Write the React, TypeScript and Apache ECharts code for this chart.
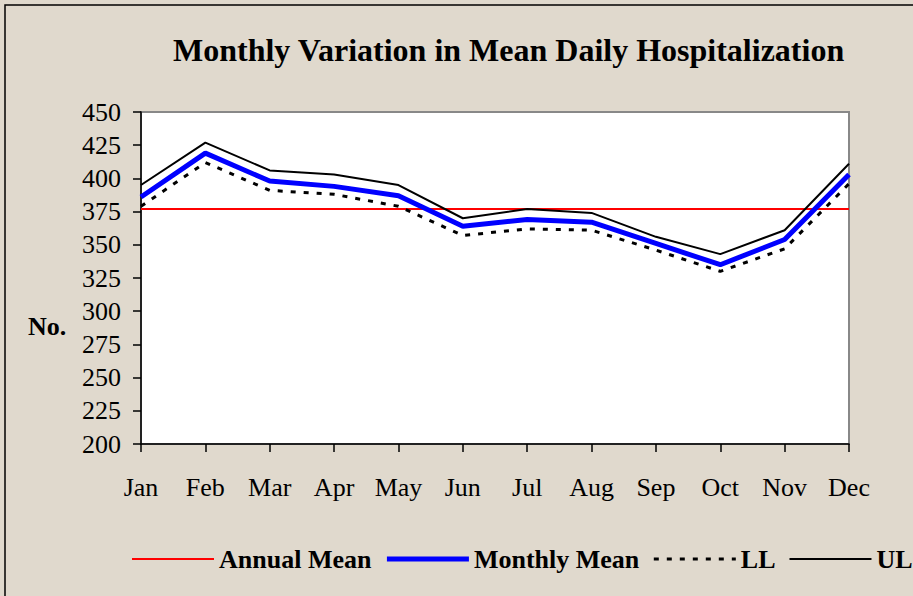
import React, { useEffect, useRef } from "react";
import * as echarts from "echarts";

const months = ["Jan", "Feb", "Mar", "Apr", "May", "Jun", "Jul", "Aug", "Sep", "Oct", "Nov", "Dec"];
const annualMean = [377, 377, 377, 377, 377, 377, 377, 377, 377, 377, 377, 377];
const monthlyMean = [386, 419, 398, 394, 387, 364, 369, 367, 351, 335, 354, 403];
const lowerLimit = [379, 412, 391, 388, 379, 357, 362, 361, 346, 330, 347, 396];
const upperLimit = [395, 427, 406, 403, 395, 370, 377, 374, 356, 343, 361, 411];
const yTicks = { min: 200, max: 450, step: 25 };

const FONT = "'Liberation Serif', 'Times New Roman', serif";

export default function App() {
  const ref = useRef<HTMLDivElement>(null);
  useEffect(() => {
    if (!ref.current) return;
    const chart = echarts.init(ref.current, undefined, { renderer: "svg" });
    chart.setOption({
      animation: false,
      backgroundColor: "#e0d9cd",
      title: {
        text: "Monthly Variation in Mean Daily Hospitalization",
        left: 168,
        top: 29,
        textStyle: { fontFamily: FONT, fontSize: 32, fontWeight: "bold", color: "#000" },
      },
      graphic: [
        {
          type: "rect",
          silent: true,
          z: -1,
          shape: { x: 5, y: 5, width: 1100, height: 800 },
          style: { fill: "none", stroke: "#000", lineWidth: 1.5 },
        },
        {
          type: "text",
          left: 28,
          top: 313,
          style: { text: "No.", font: `bold 26px ${FONT}`, fill: "#000" },
        },
      ],
      legend: {
        data: ["Annual Mean", "Monthly Mean", "LL", "UL"],
        left: 126,
        top: 541,
        itemWidth: 82,
        itemHeight: 14,
        itemGap: 13,
        itemStyle: { opacity: 0 },
        lineStyle: { width: "inherit" },
        textStyle: { fontFamily: FONT, fontSize: 26, fontWeight: "bold", color: "#000" },
      },
      grid: {
        left: 141,
        top: 112,
        width: 708,
        height: 332,
        show: true,
        backgroundColor: "#ffffff",
        borderColor: "#888888",
        borderWidth: 2,
      },
      xAxis: {
        type: "category",
        data: months,
        boundaryGap: false,
        axisLine: { lineStyle: { color: "#000", width: 1.5 } },
        axisTick: { show: true, length: 8, lineStyle: { color: "#000", width: 1.5 } },
        axisLabel: { fontFamily: FONT, fontSize: 26, color: "#000", margin: 30 },
        splitLine: { show: false },
      },
      yAxis: {
        type: "value",
        min: yTicks.min,
        max: yTicks.max,
        interval: yTicks.step,
        axisLine: { show: true, lineStyle: { color: "#000", width: 1.5 } },
        axisTick: { show: true, length: 8, lineStyle: { color: "#000", width: 1.5 } },
        axisLabel: { fontFamily: FONT, fontSize: 26, color: "#000", margin: 20 },
        splitLine: { show: false },
      },
      series: [
        {
          name: "Annual Mean",
          type: "line",
          data: annualMean,
          symbol: "none",
          lineStyle: { color: "#ff0000", width: 2 },
          itemStyle: { color: "#ff0000" },
          z: 2,
        },
        {
          name: "UL",
          type: "line",
          data: upperLimit,
          symbol: "none",
          lineStyle: { color: "#000", width: 2 },
          itemStyle: { color: "#000" },
          z: 3,
        },
        {
          name: "LL",
          type: "line",
          data: lowerLimit,
          symbol: "none",
          lineStyle: { color: "#000", width: 3, type: [5, 8] },
          itemStyle: { color: "#000" },
          z: 3,
        },
        {
          name: "Monthly Mean",
          type: "line",
          data: monthlyMean,
          symbol: "none",
          lineStyle: { color: "#0000ff", width: 5 },
          itemStyle: { color: "#0000ff" },
          z: 4,
        },
      ],
    });
    return () => chart.dispose();
  }, []);
  return (
    <div style={{ position: "fixed", left: 0, top: 0, width: 913, height: 596, overflow: "hidden" }}>
      <div ref={ref} style={{ width: 960, height: 596 }} />
    </div>
  );
}
